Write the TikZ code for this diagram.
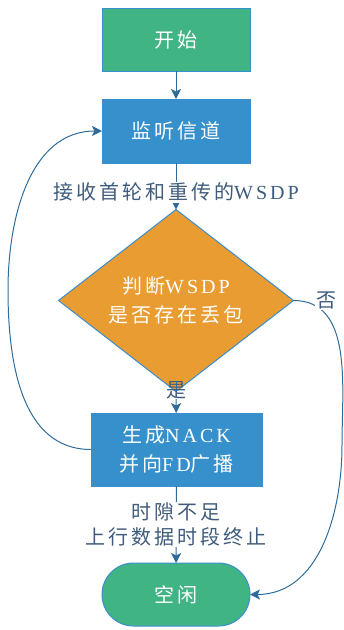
\documentclass[tikz,border=0pt]{standalone}
\usepackage{fontspec}
\setmainfont{Liberation Serif}[LetterSpace=15]
\newfontfamily\cjk{Noto Sans CJK SC}[LetterSpace=15]
\usetikzlibrary{arrows.meta,shapes.geometric,shapes.misc}
\definecolor{cgreen}{HTML}{41B484}
\definecolor{cblue}{HTML}{3690CB}
\definecolor{corange}{HTML}{E89C32}
\definecolor{cborder}{HTML}{3A8ED0}
\definecolor{cline}{HTML}{2F6B98}
\definecolor{ctext}{HTML}{3F5C7C}
\tikzset{
  boxbase/.style={draw=cborder, line width=1pt, inner sep=0pt, outer sep=0pt, text=white, align=center,
    font=\fontsize{20}{28.5}\selectfont},
  greenbox/.style={boxbase, fill=cgreen, minimum width=148pt, minimum height=63pt},
  bluebox/.style={boxbase, fill=cblue},
  decision/.style={boxbase, fill=corange, diamond, minimum width=235pt, minimum height=141pt},
  term/.style={boxbase, fill=cgreen, rounded rectangle, minimum width=148pt, minimum height=63pt},
  conn/.style={draw=cline, line width=1pt, -{Stealth[length=10pt,width=10pt,inset=2.5pt]}},
  plain/.style={draw=cline, line width=1pt},
  lbl/.style={text=ctext, fill=white, inner sep=1pt, align=center, font=\fontsize{20}{25}\selectfont}
}
\begin{document}
\begin{tikzpicture}[x=1pt,y=-1pt]
\useasboundingbox (0,0) rectangle (344,630);
\node[greenbox] (s) at (176,39.5) {\cjk 开始};
\node[bluebox, minimum width=148pt, minimum height=64pt] (b) at (176,131) {\cjk 监听信道};
\node[decision] (d) at (176,300.5) {{\cjk 判断}WSDP\\{\cjk 是否存在丢包}};
\node[bluebox, minimum width=171pt, minimum height=73pt] (n) at (176.5,449.5) {{\cjk 生成}NACK\\{\cjk 并向}FD{\cjk 广播}};
\node[term] (e) at (176,594.5) {\cjk 空闲};
\node[lbl, fill=none, inner sep=0pt] (l2) at (176,390) {\cjk 是};
\coordinate (lc) at (8,290);
\coordinate (rc) at (342,445);
\draw[conn] (s) -- (b);
\draw[conn] (b) -- node[lbl, yshift=-6pt] (l1) {{\cjk 接收首轮和重传的}WSDP} (d);
\draw[plain] (d) -- (l2);
\draw[conn] (l2) -- (n);
\draw[conn] (n) -- node[lbl] (l3) {{\cjk 时隙不足}\\{\cjk 上行数据时段终止}} (e);
\draw[conn] (n.west) to[out=180,in=-90] (lc) to[out=90,in=180] (b.west);
\draw[conn] (d.east) to[out=0,in=90] (rc) to[out=-90,in=0] (e.east);
\node[lbl] (l4) at (326,300) {\cjk 否};
\end{tikzpicture}
\end{document}
